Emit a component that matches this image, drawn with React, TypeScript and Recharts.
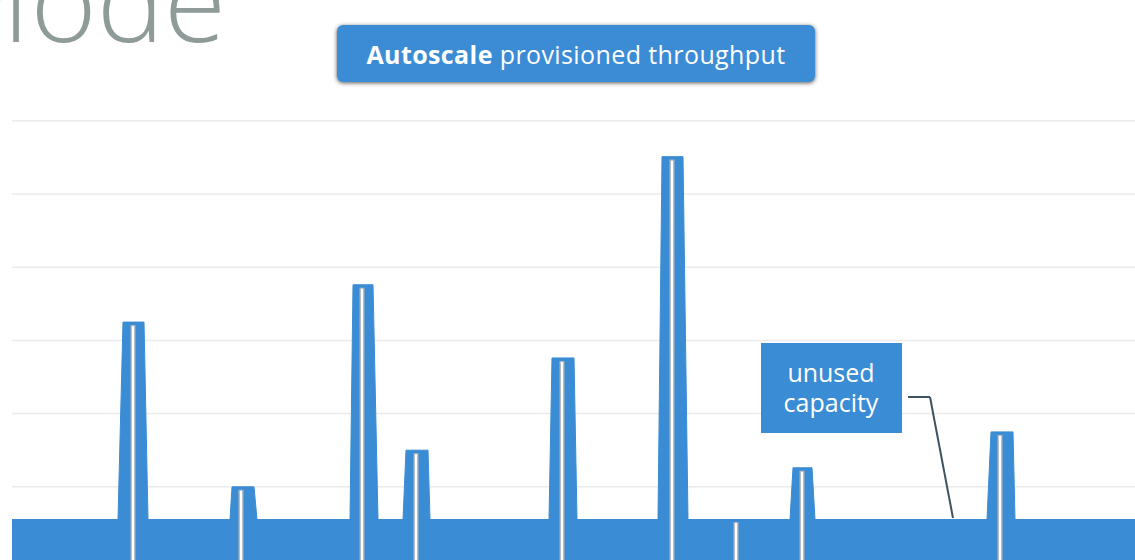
import { AreaChart, Area, XAxis, YAxis, CartesianGrid, ReferenceLine } from "recharts";

// time axis in arbitrary ticks (0..1123), throughput in RU/s
const baseline = 553;
const rampStart = [106, 218, 338, 391, 537, 646, 778, 975];
const peakStart = [111, 220, 341, 394, 540, 650, 781, 979];
const peakEnd = [132, 242, 361, 416, 562, 671, 800, 1001];
const rampEnd = [136, 245, 366, 418, 565, 676, 803, 1003];
const peaks = [3250, 1000, 3760, 1500, 2760, 5510, 1260, 1750];

// actual usage bursts
const usageTimes = [121, 229, 350, 404, 550, 660, 724, 790, 988];
const usageValues = [3210, 960, 3720, 1460, 2720, 5470, 519, 1220, 1710];

const gridValues = [1000, 2000, 3000, 4000, 5000, 6000];

// callout leader line
const leaderX = [896, 918, 941];
const leaderY = [2227, 2227, 574];

const capacity: Array<{ t: number; cap: number }> = [{ t: 0, cap: baseline }];
peaks.forEach((p, i) => {
  capacity.push({ t: rampStart[i], cap: baseline });
  capacity.push({ t: peakStart[i], cap: p });
  capacity.push({ t: peakEnd[i], cap: p });
  capacity.push({ t: rampEnd[i], cap: baseline });
});
capacity.push({ t: 1123, cap: baseline });

const BLUE = "#3a8cd5";
const FONT = "'Open Sans', 'Noto Sans', sans-serif";

export default function App() {
  return (
    <div style={{ position: "absolute", left: 0, top: 0, width: 1135, height: 560, background: "#fff", overflow: "hidden" }}>
      <AreaChart width={1135} height={560} data={capacity} margin={{ top: 0, right: 0, bottom: 0, left: 12 }}>
        <CartesianGrid vertical={false} horizontalValues={gridValues} stroke="#ebebeb" strokeWidth={1.5} />
        <XAxis dataKey="t" type="number" domain={[0, 1123]} hide />
        <YAxis type="number" domain={[0, 7650]} hide />
        <Area
          type="linear"
          dataKey="cap"
          stroke={BLUE}
          strokeWidth={1}
          fill={BLUE}
          fillOpacity={1}
          dot={false}
          activeDot={false}
          isAnimationActive={false}
        />
        {usageTimes.map((t, i) => (
          <ReferenceLine
            key={`ug${i}`}
            segment={[{ x: t, y: 0 }, { x: t, y: usageValues[i] }]}
            stroke="#b0b6bc"
            strokeWidth={5}
          />
        ))}
        {usageTimes.map((t, i) => (
          <ReferenceLine
            key={`uw${i}`}
            segment={[{ x: t, y: 0 }, { x: t, y: usageValues[i] - 15 }]}
            stroke="#ffffff"
            strokeWidth={2.2}
          />
        ))}
        <ReferenceLine segment={[{ x: leaderX[0], y: leaderY[0] }, { x: leaderX[1], y: leaderY[1] }]} stroke="#3e5361" strokeWidth={2} />
        <ReferenceLine segment={[{ x: leaderX[1], y: leaderY[1] }, { x: leaderX[2], y: leaderY[2] }]} stroke="#3e5361" strokeWidth={2} />
      </AreaChart>
      <svg width={1135} height={560} style={{ position: "absolute", left: 0, top: 0, pointerEvents: "none" }}>
        <defs>
          <filter id="shadow" x="-10%" y="-40%" width="120%" height="180%">
            <feDropShadow dx="0" dy="1" stdDeviation="2.2" floodColor="#333" floodOpacity="0.8" />
          </filter>
        </defs>
        <text x={226} y={42} textAnchor="end" fontFamily={FONT} fontWeight={300} fontSize={113} fill="#8e9b99">
          Mode
        </text>
        <rect x={337} y={25} width={478} height={57} rx={6} fill={BLUE} filter="url(#shadow)" />
        <text x={576} y={64} textAnchor="middle" fontFamily={FONT} fontSize={25} letterSpacing={0.4} fill="#fff">
          <tspan fontWeight={700}>Autoscale</tspan>
          <tspan> provisioned throughput</tspan>
        </text>
        <rect x={761} y={343} width={141} height={90} fill={BLUE} />
        <text textAnchor="middle" fontFamily={FONT} fontSize={25} fill="#fff">
          <tspan x={831} y={382}>unused</tspan>
          <tspan x={831} y={412}>capacity</tspan>
        </text>
      </svg>
    </div>
  );
}
